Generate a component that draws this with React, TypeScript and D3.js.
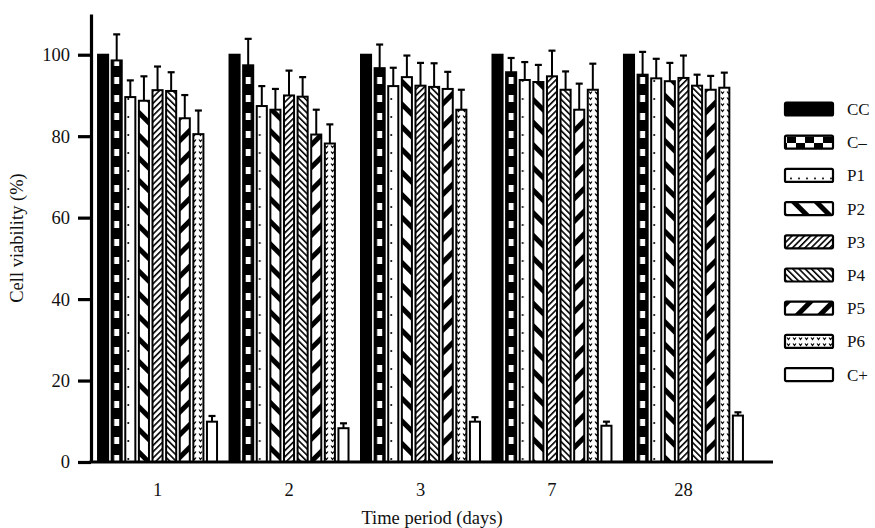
import { useRef, useEffect } from 'react';
import * as d3 from 'd3';

// categories
const days = ['1', '2', '3', '7', '28'];
const groups = ['CC', 'C–', 'P1', 'P2', 'P3', 'P4', 'P5', 'P6', 'C+'];
const yTicks = [0, 20, 40, 60, 80, 100];

// mean cell viability (%) per group, one value per day
const ccVals = [100, 100, 100, 100, 100];
const cMinusVals = [98.6, 97.4, 96.7, 95.7, 95.1];
const p1Vals = [89.6, 87.4, 92.3, 93.8, 94.2];
const p2Vals = [88.7, 86.5, 94.5, 93.3, 93.5];
const p3Vals = [91.3, 90.0, 92.4, 94.7, 94.3];
const p4Vals = [91.1, 89.7, 92.1, 91.4, 92.4];
const p5Vals = [84.4, 80.4, 91.6, 86.5, 91.4];
const p6Vals = [80.5, 78.2, 86.5, 91.4, 91.9];
const cPlusVals = [9.9, 8.3, 9.9, 8.9, 11.4];

// standard deviations
const ccErr = [0, 0, 0, 0, 0];
const cMinusErr = [6.4, 6.5, 5.8, 3.5, 5.6];
const p1Err = [4.1, 4.9, 4.5, 4.4, 4.8];
const p2Err = [6.0, 5.1, 5.3, 4.2, 4.5];
const p3Err = [5.8, 6.1, 5.6, 6.3, 5.5];
const p4Err = [4.6, 4.8, 5.8, 4.5, 2.7];
const p5Err = [5.7, 6.1, 4.2, 6.4, 3.4];
const p6Err = [5.8, 4.7, 4.9, 6.4, 3.7];
const cPlusErr = [1.4, 1.2, 1.1, 1.0, 0.8];

const allVals = [ccVals, cMinusVals, p1Vals, p2Vals, p3Vals, p4Vals, p5Vals, p6Vals, cPlusVals];
const allErr = [ccErr, cMinusErr, p1Err, p2Err, p3Err, p4Err, p5Err, p6Err, cPlusErr];

const FONT = '"Liberation Serif", "Times New Roman", serif';

export default function App() {
    const svgRef = useRef<SVGSVGElement>(null);

    useEffect(() => {
        const width = 875;
        const height = 528;
        const margin = { left: 91, bottom: 462, top: 14, axisEnd: 773 };

        const svg = d3.select(svgRef.current)
            .attr('width', width)
            .attr('height', height)
            .attr('viewBox', [0, 0, width, height]);

        svg.selectAll('*').remove();
        svg.append('rect').attr('width', width).attr('height', height).attr('fill', '#fff');

        const defs = svg.append('defs');

        //Scales
        const y = d3.scaleLinear().domain([0, 110]).range([margin.bottom, margin.top]);
        const x0 = d3.scaleBand().domain(days).range([92, 749])
            .paddingInner(0.095).paddingOuter(0.046);
        const x1 = d3.scaleBand().domain(groups).range([0, x0.bandwidth()])
            .paddingInner(0.26).paddingOuter(0);
        const bw = x1.bandwidth();

        //Shared stripe patterns
        const stripes = (id: string, angle: number, size: number, thick: number) => {
            const p = defs.append('pattern').attr('id', id)
                .attr('patternUnits', 'userSpaceOnUse')
                .attr('width', size).attr('height', size)
                .attr('patternTransform', `rotate(${angle})`);
            p.append('rect').attr('width', size).attr('height', size).attr('fill', '#fff');
            p.append('rect').attr('width', thick).attr('height', size).attr('fill', '#000');
        };
        stripes('p2', -45, 16, 5);
        stripes('p5', 45, 16, 5);
        stripes('p3', 45, 4.4, 1.6);
        stripes('p4', -45, 4.4, 1.6);

        const p6 = defs.append('pattern').attr('id', 'p6')
            .attr('patternUnits', 'userSpaceOnUse').attr('width', 6).attr('height', 6);
        p6.append('rect').attr('width', 6).attr('height', 6).attr('fill', '#fff');
        p6.append('path').attr('d', 'M1,1.5 L2.5,3.5 L4,1.5').attr('fill', 'none')
            .attr('stroke', '#000').attr('stroke-width', 1.2);

        //Per-position patterns, aligned to the bar / swatch
        const checker = (id: string, x: number, w: number, legend: boolean) => {
            if (legend) {
                const p = defs.append('pattern').attr('id', id).attr('patternUnits', 'userSpaceOnUse')
                    .attr('x', x).attr('y', 0).attr('width', 18).attr('height', 13);
                p.append('rect').attr('width', 18).attr('height', 13).attr('fill', '#000');
                p.append('rect').attr('width', 9).attr('height', 6.5).attr('fill', '#fff');
                p.append('rect').attr('x', 9).attr('y', 6.5).attr('width', 9).attr('height', 6.5).attr('fill', '#fff');
            } else {
                const p = defs.append('pattern').attr('id', id).attr('patternUnits', 'userSpaceOnUse')
                    .attr('x', x).attr('y', 0).attr('width', w).attr('height', 18);
                p.append('rect').attr('width', w).attr('height', 18).attr('fill', '#000');
                p.append('rect').attr('x', w / 2 - 2.5).attr('y', 5).attr('width', 5).attr('height', 7).attr('fill', '#fff');
            }
            return `url(#${id})`;
        };
        const dots = (id: string, x: number, w: number, legend: boolean, yOff: number) => {
            const tw = legend ? 8 : w;
            const th = legend ? 13 : 18;
            const p = defs.append('pattern').attr('id', id).attr('patternUnits', 'userSpaceOnUse')
                .attr('x', x).attr('y', yOff).attr('width', tw).attr('height', th);
            p.append('rect').attr('width', tw).attr('height', th).attr('fill', '#fff');
            p.append('circle').attr('cx', legend ? 4 : 3).attr('cy', legend ? 9.5 : 9)
                .attr('r', 1).attr('fill', '#000');
            return `url(#${id})`;
        };

        const fillFor = (gi: number, key: string, x: number, w: number, legend: boolean, yOff = 0) => {
            switch (gi) {
                case 0: return '#000';
                case 1: return checker(`cm-${key}`, x, w, legend);
                case 2: return dots(`p1-${key}`, x, w, legend, yOff);
                case 3: return 'url(#p2)';
                case 4: return 'url(#p3)';
                case 5: return 'url(#p4)';
                case 6: return 'url(#p5)';
                case 7: return 'url(#p6)';
                default: return '#fff';
            }
        };

        //Bars
        const rows = days.flatMap((d, di) => groups.map((g, gi) => ({
            day: d, di, group: g, gi, value: allVals[gi][di], err: allErr[gi][di],
        })));

        const barG = svg.append('g');
        rows.forEach((r) => {
            const bx = (x0(r.day) ?? 0) + (x1(r.group) ?? 0);
            barG.append('rect')
                .attr('x', bx)
                .attr('y', y(r.value))
                .attr('width', bw)
                .attr('height', y(0) - y(r.value))
                .attr('fill', fillFor(r.gi, `${r.di}`, bx, bw, false))
                .attr('stroke', '#000')
                .attr('stroke-width', 2);

            if (r.err > 0) {
                const cx = bx + bw / 2;
                barG.append('line')
                    .attr('x1', cx).attr('x2', cx)
                    .attr('y1', y(r.value)).attr('y2', y(r.value + r.err))
                    .attr('stroke', '#000').attr('stroke-width', 2);
                barG.append('line')
                    .attr('x1', cx - 3.5).attr('x2', cx + 3.5)
                    .attr('y1', y(r.value + r.err)).attr('y2', y(r.value + r.err))
                    .attr('stroke', '#000').attr('stroke-width', 2.2);
            }
        });

        //Y axis
        const yAxis = svg.append('g')
            .attr('transform', `translate(${margin.left},0)`)
            .call(d3.axisLeft(y).tickValues(yTicks).tickSize(13).tickSizeOuter(0).tickPadding(8));
        yAxis.selectAll('path, line').attr('stroke', '#000').attr('stroke-width', 3.2);
        yAxis.selectAll('text').attr('font-family', FONT).attr('font-size', 18.5).attr('fill', '#111');

        //X axis
        const xAxis = svg.append('g')
            .attr('transform', `translate(0,${margin.bottom})`)
            .call(d3.axisBottom(x0).tickSize(0).tickPadding(21));
        xAxis.select('.domain').remove();
        xAxis.selectAll('text').attr('font-family', FONT).attr('font-size', 18.5).attr('fill', '#111');
        svg.append('line')
            .attr('x1', margin.left - 1.6).attr('x2', margin.axisEnd)
            .attr('y1', margin.bottom).attr('y2', margin.bottom)
            .attr('stroke', '#000').attr('stroke-width', 3.2);

        //Axis titles
        svg.append('text')
            .attr('x', (margin.left + margin.axisEnd) / 2)
            .attr('y', 524)
            .attr('text-anchor', 'middle')
            .attr('font-family', FONT).attr('font-size', 18.5).attr('fill', '#111')
            .text('Time period (days)');

        svg.append('text')
            .attr('transform', `translate(23,${(margin.top + margin.bottom) / 2}) rotate(-90)`)
            .attr('text-anchor', 'middle')
            .attr('font-family', FONT).attr('font-size', 18.5).attr('fill', '#111')
            .text('Cell viability (%)');

        //Legend
        const legend = svg.append('g');
        const sx = 785;
        const sw = 48;
        const sh = 13;
        groups.forEach((g, gi) => {
            const cy = 109 + gi * 33.2;
            legend.append('rect')
                .attr('x', sx).attr('y', cy - sh / 2)
                .attr('width', sw).attr('height', sh)
                .attr('rx', 1.5)
                .attr('fill', fillFor(gi, 'legend', sx + 2, sw, true, cy - sh / 2))
                .attr('stroke', '#000').attr('stroke-width', 2.2);
            legend.append('text')
                .attr('x', 847).attr('y', cy)
                .attr('dy', '0.35em')
                .attr('font-family', FONT).attr('font-size', 17).attr('fill', '#111')
                .text(g);
        });
    }, []);

    return <svg ref={svgRef} style={{ position: 'absolute', left: 0, top: 0 }} />;
}
